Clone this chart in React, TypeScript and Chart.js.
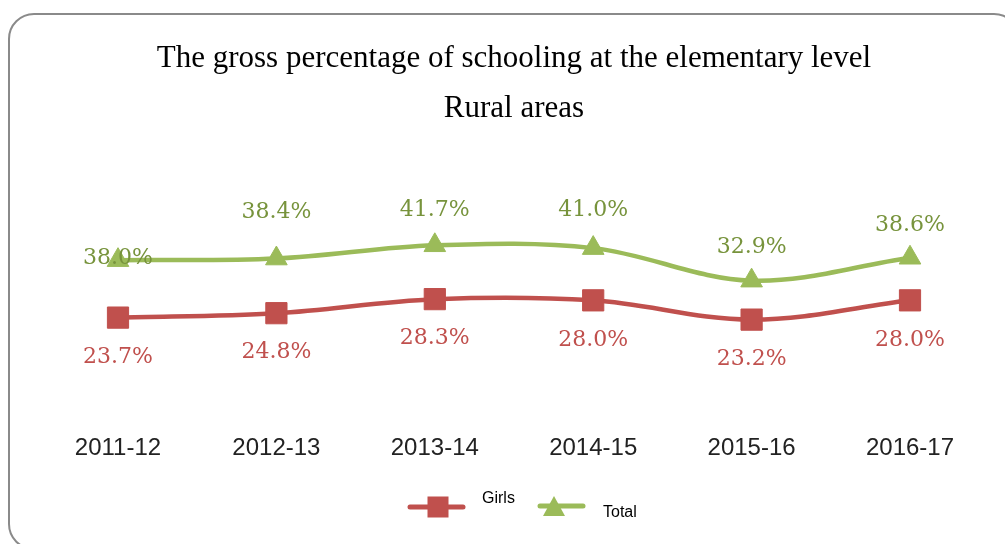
import React, { useEffect, useRef } from 'react';
import { Chart, registerables } from 'chart.js';

Chart.register(...registerables);

const categories = ['2011-12', '2012-13', '2013-14', '2014-15', '2015-16', '2016-17'];
const girlsValues = [23.7, 24.8, 28.3, 28.0, 23.2, 28.0];
const totalValues = [38.0, 38.4, 41.7, 41.0, 32.9, 38.6];
const titleLines = ['The gross percentage of schooling at the elementary level', 'Rural areas'];
const seriesNames = ['Girls', 'Total'];

// label placement (layout only)
const totalLabelDy = [-1.5, -46, -35.5, -37.5, -33, -32.5];
const girlsLabelDy = 39.5;

const RED = '#C0504D';
const GREEN = '#9BBB59';
const GREEN_TEXT = '#77933C';
const RED_TEXT = '#C0504D';

const fmt = (v: number) => v.toFixed(1) + '%';

const labelPlugin = {
  id: 'valueLabels',
  afterDatasetsDraw(chart: any) {
    const ctx = chart.ctx;
    ctx.save();
    ctx.font = '22px "DejaVu Serif"';
    ctx.textAlign = 'center';
    ctx.textBaseline = 'middle';
    chart.data.datasets.forEach((ds: any, di: number) => {
      const meta = chart.getDatasetMeta(di);
      meta.data.forEach((pt: any, i: number) => {
        const v = ds.data[i];
        const dy = di === 0 ? girlsLabelDy : totalLabelDy[i];
        ctx.fillStyle = di === 0 ? RED_TEXT : GREEN_TEXT;
        ctx.fillText(fmt(v), pt.x, pt.y + dy);
      });
    });
    ctx.restore();
  },
};

const legendPlugin = {
  id: 'customLegend',
  afterDraw(chart: any) {
    const ctx = chart.ctx;
    const cx = chart.width / 2;
    const items = [
      { lineX0: cx - 105, lineX1: cx - 52, y: 507, mx: cx - 77, textX: cx - 33, textY: 499 },
      { lineX0: cx + 25, lineX1: cx + 68, y: 506, mx: cx + 39, textX: cx + 88, textY: 513 },
    ];
    ctx.save();
    chart.data.datasets.forEach((ds: any, i: number) => {
      const it = items[i];
      ctx.strokeStyle = ds.borderColor;
      ctx.lineWidth = 5;
      ctx.lineCap = 'round';
      ctx.beginPath();
      ctx.moveTo(it.lineX0, it.y);
      ctx.lineTo(it.lineX1, it.y);
      ctx.stroke();
      ctx.fillStyle = ds.borderColor;
      if (i === 0) {
        ctx.fillRect(it.mx - 10.5, it.y - 10.5, 21, 21);
      } else {
        ctx.beginPath();
        ctx.moveTo(it.mx, it.y - 10);
        ctx.lineTo(it.mx + 11, it.y + 10);
        ctx.lineTo(it.mx - 11, it.y + 10);
        ctx.closePath();
        ctx.fill();
      }
      ctx.fillStyle = '#000';
      ctx.font = '16px "Liberation Sans"';
      ctx.textAlign = 'left';
      ctx.textBaseline = 'middle';
      ctx.fillText(ds.label, it.textX, it.textY);
    });
    ctx.restore();
  },
};

export default function App() {
  const ref = useRef<HTMLCanvasElement | null>(null);
  useEffect(() => {
    if (!ref.current) return;
    const chart = new Chart(ref.current, {
      type: 'line',
      data: {
        labels: categories,
        datasets: [
          {
            label: seriesNames[0],
            data: girlsValues,
            borderColor: RED,
            backgroundColor: RED,
            borderWidth: 4.5,
            pointStyle: 'rect',
            pointRadius: 15,
            pointBorderWidth: 1,
            pointBackgroundColor: RED,
            pointBorderColor: RED,
            tension: 0.35,
          },
          {
            label: seriesNames[1],
            data: totalValues,
            borderColor: GREEN,
            backgroundColor: GREEN,
            borderWidth: 4.5,
            pointStyle: 'triangle',
            pointRadius: 12.5,
            pointBorderWidth: 1,
            pointBackgroundColor: GREEN,
            pointBorderColor: GREEN,
            tension: 0.35,
          },
        ],
      },
      options: {
        responsive: false,
        animation: false,
        devicePixelRatio: 1,
        layout: { padding: { top: 0, left: 38.8, right: 40.8, bottom: 60.4 } },
        plugins: {
          legend: { display: false },
          tooltip: { enabled: false },
          title: {
            display: true,
            text: titleLines,
            color: '#000',
            font: { family: '"Liberation Serif"', size: 31, weight: 'normal', lineHeight: 50 / 31 },
            padding: { top: 34, bottom: 37.8 },
          },
        },
        scales: {
          x: {
            offset: true,
            grid: { display: false, drawTicks: false },
            border: { display: false },
            ticks: {
              color: '#222',
              padding: 21,
              font: { family: '"Liberation Sans"', size: 24, lineHeight: 1.2 },
            },
          },
          y: {
            display: false,
            min: 0,
            max: 60,
          },
        },
      },
      plugins: [labelPlugin, legendPlugin],
    });
    return () => chart.destroy();
  }, []);

  return (
    <>
      <div
        style={{
          position: 'fixed',
          left: 8,
          top: 13,
          width: 1012,
          height: 537,
          boxSizing: 'border-box',
          border: '2px solid #8a8a8a',
          borderRadius: 26,
          background: '#fff',
        }}
      />
      <canvas
        ref={ref}
        width={1030}
        height={544}
        style={{ position: 'fixed', left: 0, top: 0, width: 1030, height: 544 }}
      />
    </>
  );
}
